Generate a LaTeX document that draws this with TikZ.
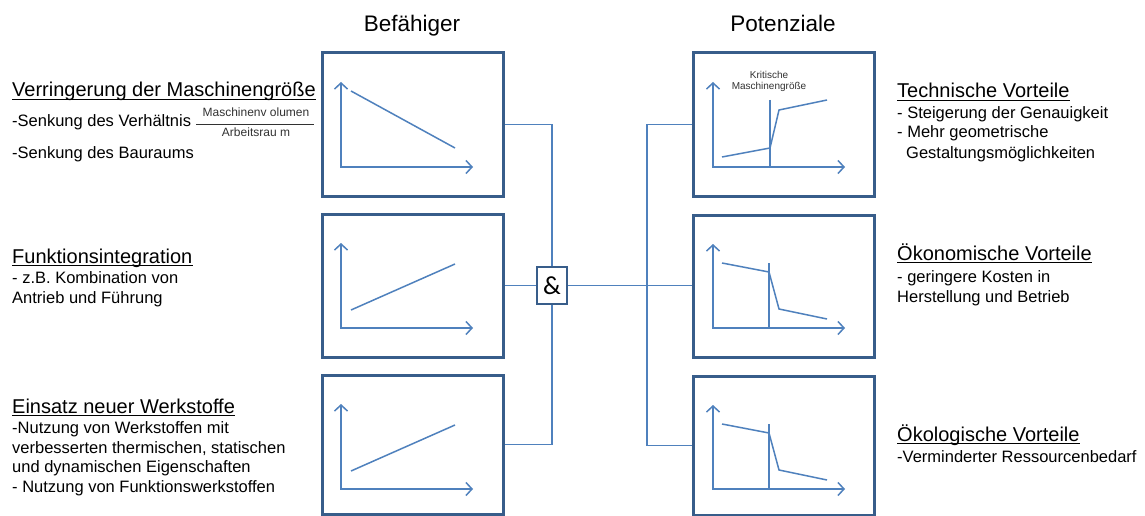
\documentclass[tikz,border=0pt]{standalone}
\usepackage{fontspec}
\setmainfont{Liberation Sans}
\newfontfamily\ampfont{Carlito}
\usetikzlibrary{arrows.meta,calc,backgrounds}
\definecolor{boxc}{RGB}{56,93,138}
\definecolor{linec}{RGB}{79,129,189}
\definecolor{smallc}{RGB}{50,50,50}
\begin{document}
\begin{tikzpicture}[x=1pt,y=-1pt,
 box/.style={draw=boxc,line width=3pt,minimum width=181pt,inner sep=0,fill=white},
 conn/.style={draw=linec,line width=1.5pt},
 axes/.style={draw=linec,line width=1.5pt,{Straight Barb[length=6pt,width=13pt]}-{Straight Barb[length=6pt,width=13pt]}},
 curve/.style={draw=linec,line width=1.5pt},
 txt/.style={anchor=base west,inner sep=0,font=\fontsize{16.5}{19.7}\selectfont},
 head/.style={anchor=base west,inner sep=0,font=\fontsize{20}{24}\selectfont},
 title/.style={anchor=base,inner sep=0,font=\fontsize{22.5}{26}\selectfont},
 fracx/.style={anchor=base,inner sep=0,text=smallc,font=\fontsize{12}{14}\selectfont},
 krit/.style={anchor=base,inner sep=0,text=smallc,font=\fontsize{10}{11}\selectfont},
 uline/.style={line width=1pt,draw=black}]
\useasboundingbox (0,0) rectangle (1145,516);

% titles
\node[title] (tb) at (412,32) {Befähiger};
\node[title] (tp) at (783,32) {Potenziale};

% boxes
\node[box,minimum height=143pt] (L1) at (412.5,124.5) {};
\node[box,minimum height=143pt] (L2) at (412.5,285.5) {};
\node[box,minimum height=139pt] (L3) at (412.5,444.5) {};
\node[box,minimum height=143pt] (R1) at (784,124.5) {};
\node[box,minimum height=142pt] (R2) at (784,286) {};
\node[box,minimum height=139pt] (R3) at (784,445.5) {};

% and gate
\node[draw=boxc,line width=2pt,fill=white,minimum width=30pt,minimum height=37pt,inner sep=0,font=\ampfont\fontsize{26}{30}\selectfont] (amp) at (552,285.5) {\&};
\coordinate (jR) at (647,0);

\begin{scope}[on background layer]
\draw[conn] (L1.east) -| (amp.north);
\draw[conn] (L3.east) -| (amp.south);
\draw[conn] (L2.east) -- (L2.east -| amp.west);
\draw[conn] (amp.east) -- (amp.east -| R2.west);
\draw[conn] (R1.west) -| (jR |- R3.west) -- (R3.west);
\end{scope}

% left charts
\begin{scope}[shift={(0,53)}]
\draw[axes] (341,29) -- (341,114) -- (473,114);
\draw[curve] (351,38) -- (455,95);
\end{scope}
\begin{scope}[shift={(0,214)}]
\draw[axes] (341,29) -- (341,114) -- (473,114);
\draw[curve] (351,96) -- (455,50);
\end{scope}
\begin{scope}[shift={(0,375)}]
\draw[axes] (341,29) -- (341,114) -- (473,114);
\draw[curve] (351,96) -- (455,50);
\end{scope}

% right charts
\begin{scope}[shift={(0,53)}]
\draw[axes] (713,29) -- (713,114) -- (845,114);
\draw[curve] (770,47) -- (770,114);
\draw[curve] (722,104) -- (770,95) -- (779,57) -- (827,47);
\end{scope}
\node[krit] (krit1) at (769,78.5) {Kritische};
\node[krit] (krit2) at (769,90) {Maschinengröße};
\begin{scope}[shift={(0,215)}]
\draw[axes] (713,29) -- (713,113) -- (845,113);
\draw[curve] (769,48) -- (769,113);
\draw[curve] (722,48) -- (769,57) -- (779,94) -- (827,104);
\end{scope}
\begin{scope}[shift={(0,376)}]
\draw[axes] (713,29) -- (713,113) -- (845,113);
\draw[curve] (769,48) -- (769,113);
\draw[curve] (722,48) -- (769,57) -- (779,94) -- (827,104);
\end{scope}

% left texts
\node[head] (hL1) at (12,97) {Verringerung der Maschinengröße};
\node[txt] (tL1a) at (12,127) {-Senkung des Verhältnis};
\node[fracx] (num) at (256,117) {Maschinenv olumen};
\node[fracx] (den) at (256,136) {Arbeitsrau m};
\draw[draw=smallc,line width=0.8pt] ($(num.base west |- 0,124)+(-6,0)$) -- ($(num.base east |- 0,124)+(4,0)$);
\node[txt] (tL1b) at (12,158) {-Senkung des Bauraums};

\node[head] (hL2) at (12,263) {Funktionsintegration};
\node[txt] (tL2a) at (12,283) {- z.B. Kombination von};
\node[txt] (tL2b) at (12,303) {Antrieb und Führung};

\node[head] (hL3) at (12,413) {Einsatz neuer Werkstoffe};
\node[txt] (tL3a) at (12,433) {-Nutzung von Werkstoffen mit};
\node[txt] (tL3b) at (12,453) {verbesserten thermischen, statischen};
\node[txt] (tL3c) at (12,472.5) {und dynamischen Eigenschaften};
\node[txt] (tL3d) at (12,492) {- Nutzung von Funktionswerkstoffen};

% right texts
\node[head] (hR1) at (897,98) {Technische Vorteile};
\node[txt] (tR1a) at (897,118) {- Steigerung der Genauigkeit};
\node[txt] (tR1b) at (897,138) {- Mehr geometrische};
\node[txt] (tR1c) at (906,158) {Gestaltungsmöglichkeiten};
\node[head] (hR2) at (897,260) {Ökonomische Vorteile};
\node[txt] (tR2a) at (897,282) {- geringere Kosten in};
\node[txt] (tR2b) at (897,302) {Herstellung und Betrieb};
\node[head] (hR3) at (897,441) {Ökologische Vorteile};
\node[txt] (tR3a) at (897,462) {-Verminderter Ressourcenbedarf};

\foreach \h in {hL1,hL2,hL3,hR1,hR2,hR3}
  \draw[uline] ($(\h.base west)+(0,2.5)$) -- ($(\h.base east)+(0,2.5)$);
\end{tikzpicture}
\end{document}
